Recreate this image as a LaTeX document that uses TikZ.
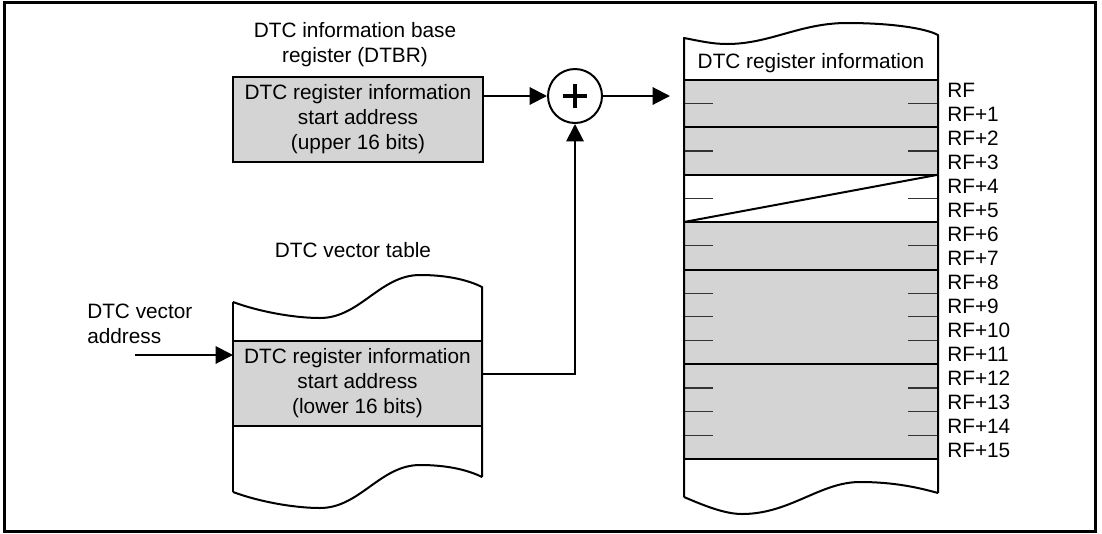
\documentclass[tikz,border=0pt]{standalone}
\usepackage{fontspec}
\setmainfont{Liberation Sans}
\usetikzlibrary{arrows.meta,calc}
\definecolor{cellgray}{RGB}{212,212,212}
\tikzset{
  lbl/.style={font=\fontsize{15.6}{18.75}\selectfont, inner sep=0pt, align=center},
  graybox/.style={draw, line width=1.5pt, fill=cellgray, lbl},
  conn/.style={line width=1.5pt, -{Triangle[length=13pt,width=13pt]}},
  plain/.style={line width=1.5pt},
  tick/.style={line width=0.9pt, black!80},
  rflbl/.style={font=\fontsize{15.6}{18.75}\selectfont, inner sep=0pt, anchor=west}
}
\begin{document}
\begin{tikzpicture}[x=0.75pt,y=-0.75pt]
\useasboundingbox (0,0) rectangle (1102,533);
% frame
\draw[line width=2.25pt] (4,2.5) rectangle (1095,531);

% DTBR
\node[lbl] (dtbrtitle) at (355,45) {DTC information base\\register (DTBR)};
\node[graybox, minimum width=187.5pt, minimum height=63.75pt] (dtbr) at (358,119.5)
  {DTC register information\\start address\\(upper 16 bits)};

% adder
\node[draw, circle, line width=1.5pt, minimum size=40.5pt, inner sep=0pt] (sum) at (575,96) {};
\draw[line width=2.4pt] ($(sum.center)+(-12,0)$) -- ($(sum.center)+(12,0)$);
\draw[line width=2.4pt] ($(sum.center)+(0,-12)$) -- ($(sum.center)+(0,12)$);

% vector table
\node[lbl] (vttitle) at (353,250) {DTC vector table};
\fill[white] (233,302) .. controls (260,312) and (295,318) .. (320,318)
  .. controls (360,318) and (380,275) .. (420,275)
  .. controls (450,275) and (470,281) .. (482,287) -- (482,477)
  .. controls (470,471) and (450,465) .. (420,465)
  .. controls (380,465) and (360,508) .. (320,508)
  .. controls (295,508) and (260,502) .. (233,492) -- cycle;
\node[graybox, draw=none, minimum width=186.75pt, minimum height=63.75pt] (vband) at (357.5,383.5)
  {DTC register information\\start address\\(lower 16 bits)};
\draw[plain] (233,341) -- (482,341);
\draw[plain] (233,426) -- (482,426);
\draw[plain, line join=round] (233,302) .. controls (260,312) and (295,318) .. (320,318)
  .. controls (360,318) and (380,275) .. (420,275)
  .. controls (450,275) and (470,281) .. (482,287) -- (482,477);
\draw[plain] (233,302) -- (233,492);
\draw[plain] (233,492) .. controls (260,502) and (295,508) .. (320,508)
  .. controls (360,508) and (380,465) .. (420,465)
  .. controls (450,465) and (470,471) .. (482,477);

\node[lbl, align=left, anchor=west] (vaddr) at (87,324) {DTC vector\\address};
\coordinate (vin) at (135,355);
\coordinate (vinend) at (233,355);
\draw[conn] (vin) -- (vinend);

% connectors
\coordinate (vout) at (482,373.5);
\draw[conn] (dtbr.east |- sum.west) -- (sum.west);
\draw[conn] (vout) -- (vout -| sum.south) -- (sum.south);
\coordinate (rfin) at (670,96);
\draw[conn] (sum.east) -- (rfin);

% register information table
\fill[cellgray] (684,80) rectangle (938,174.75);
\fill[cellgray] (684,222) rectangle (938,459);
\node[lbl] (rihead) at (811,63) {DTC register information};
\foreach \k in {1,3,5,7,9,10,11,13,14,15} {
  \draw[tick] (684,{80+23.6875*\k}) -- (713,{80+23.6875*\k});
  \draw[tick] (908,{80+23.6875*\k}) -- (938,{80+23.6875*\k});
}
\foreach \k in {0,2,4,6,8,12,16} {
  \draw[plain] (684,{80+23.6875*\k}) -- (938,{80+23.6875*\k});
}
\draw[plain] (684,222) -- (938,174.75);
\draw[plain, line join=round] (684,497) -- (684,38)
  .. controls (700,41) and (712,44) .. (727,44)
  .. controls (770,44) and (800,23) .. (847,23)
  .. controls (890,23) and (925,28) .. (938,35) -- (938,493);
\draw[plain] (684,497) .. controls (705,506) and (725,514) .. (742,514)
  .. controls (790,514) and (820,482) .. (860,482)
  .. controls (895,482) and (920,488) .. (938,493);

\node[rflbl] (rf0) at (947,90) {RF};
\foreach \i in {1,...,15} {
  \node[rflbl] (rf\i) at (947,{90+24*\i}) {RF+\i};
}
\end{tikzpicture}
\end{document}
